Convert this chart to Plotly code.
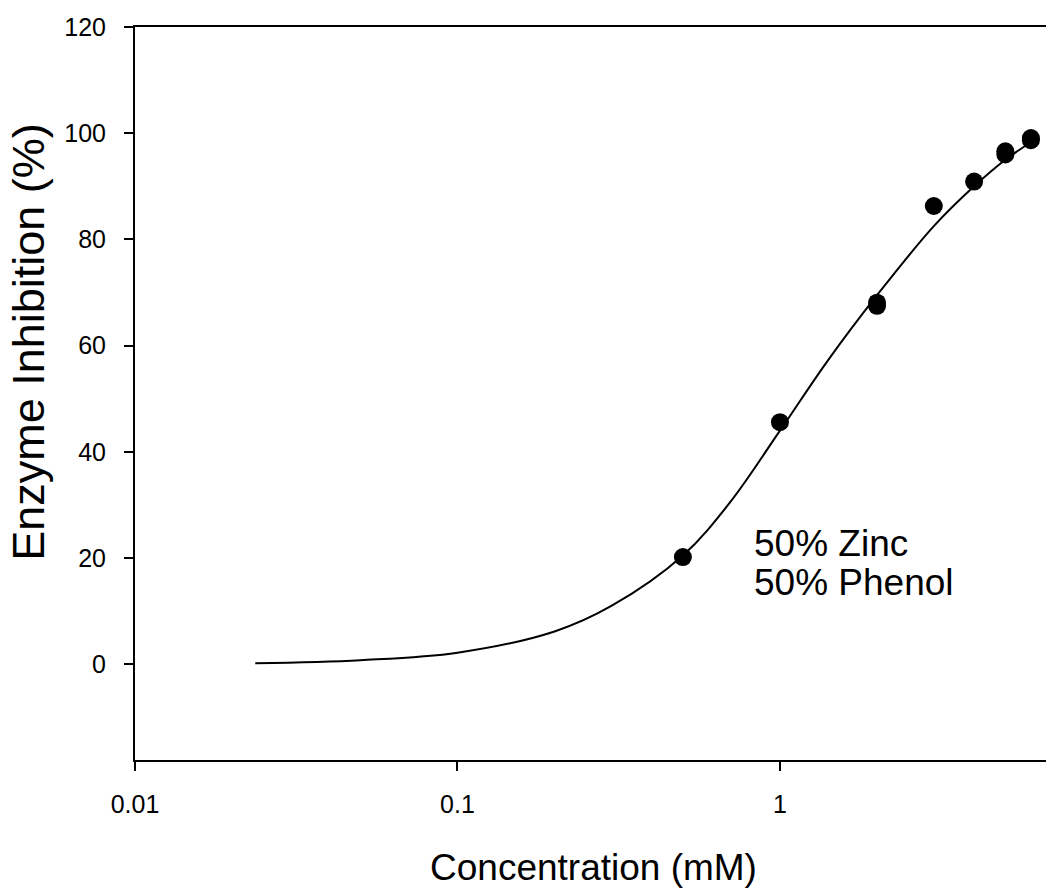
import plotly.graph_objects as go

# Measured data points
conc = [0.5, 1, 2, 2, 3, 4, 5, 5, 6, 6]
inhibition = [20.2, 45.6, 67.5, 68.1, 86.3, 90.9, 96.0, 96.6, 98.7, 99.1]

# Fitted curve
curve_x = [0.0236, 0.05, 0.1, 0.2, 0.3, 0.5, 0.7, 1.0, 1.4, 2.0, 3.0, 4.0, 5.0, 6.0]
curve_y = [0.2, 0.8, 2.2, 6.2, 11.0, 20.5, 30.5, 44.0, 57.0, 69.5, 82.5, 90.0, 95.0, 98.3]

x_ticks = [0.01, 0.1, 1]
x_ticklabels = ["0.01", "0.1", "1"]
y_ticks = [0, 20, 40, 60, 80, 100, 120]

FONT = "Liberation Sans, Arial, sans-serif"

fig = go.Figure()
fig.add_trace(go.Scatter(x=curve_x, y=curve_y, mode="lines",
                         line=dict(color="black", width=2, shape="spline", smoothing=1),
                         showlegend=False, hoverinfo="skip"))
fig.add_trace(go.Scatter(x=conc, y=inhibition, mode="markers",
                         marker=dict(color="black", size=18, symbol="circle"),
                         showlegend=False))

fig.update_layout(
    width=1046, height=891,
    margin=dict(l=135, r=0, t=27, b=131),
    paper_bgcolor="white", plot_bgcolor="white",
    font=dict(family=FONT, color="black"),
    xaxis=dict(type="log", range=[-2, 0.825],
               tickvals=x_ticks, ticktext=x_ticklabels,
               ticks="outside", ticklen=9, tickwidth=2, tickcolor="black",
               showline=True, linewidth=2, linecolor="black", mirror=True,
               showgrid=False, zeroline=False,
               tickfont=dict(size=25, family=FONT), ticklabelstandoff=12),
    yaxis=dict(range=[-18, 120], tickvals=y_ticks,
               ticks="outside", ticklen=9, tickwidth=2, tickcolor="black",
               showline=True, linewidth=2, linecolor="black",
               showgrid=False, zeroline=False,
               tickfont=dict(size=25, family=FONT), ticklabelstandoff=13),
    annotations=[
        dict(text="Concentration (mM)", xref="paper", yref="paper",
             x=0.503, y=-0.147, xanchor="center", yanchor="middle",
             showarrow=False, font=dict(size=37, family=FONT)),
        dict(text="Enzyme Inhibition (%)", xref="paper", yref="paper",
             x=-0.117, y=0.571, xanchor="center", yanchor="middle", textangle=-90,
             showarrow=False, font=dict(size=45, family=FONT)),
        dict(text="50% Zinc", xref="x", yref="y", x=-0.0868, y=22.7,
             xanchor="left", yanchor="middle", showarrow=False,
             font=dict(size=37, family=FONT)),
        dict(text="50% Phenol", xref="x", yref="y", x=-0.0868, y=15.4,
             xanchor="left", yanchor="middle", showarrow=False,
             font=dict(size=37, family=FONT)),
    ],
)

fig.write_html("out.html")
